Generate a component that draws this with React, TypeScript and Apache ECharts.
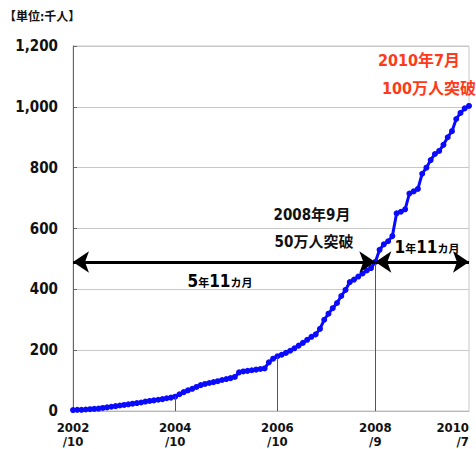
import React, { useEffect, useRef } from "react";
import * as echarts from "echarts";

// Monthly cumulative subscribers (thousands), 2002/10 .. 2010/7
const startYear = 2002;
const startMonth = 10;
const values: number[] = [
  3, 4, 4, 5, 6, 7, 8, 10, 12, 14, 16, 18, 20, 22, 24, 26, 28, 31, 33, 35, 37, 39, 42, 44,
  47, 55, 62, 68, 73, 79, 85, 89, 92, 95, 98, 102, 105, 108, 112, 127, 130, 132, 134, 136,
  138, 140, 160, 172, 180, 185, 191, 198, 206, 215, 224, 234, 244, 252, 270, 300, 320, 338,
  355, 378, 398, 424, 432, 442, 452, 462, 470, 490, 530, 548, 558, 575, 650, 655, 663, 715,
  722, 730, 780, 800, 825, 845, 855, 875, 900, 920, 960, 980, 995, 1003,
];
const categories: string[] = values.map((_, i) => {
  const m = startMonth - 1 + i;
  return `${startYear + Math.floor(m / 12)}/${(m % 12) + 1}`;
});
const labeledMonths = ["2002/10", "2004/10", "2006/10", "2008/9", "2010/7"];
const dropLineMonths = ["2004/10", "2006/10", "2008/9"];
const arrowLevel = 490;
const arrowSpans: [string, string][] = [
  ["2002/10", "2008/9"],
  ["2008/9", "2010/7"],
];
const yTicks = { min: 0, max: 1200, interval: 200 };

const FONT = "'DejaVu Sans Condensed', 'Noto Sans CJK JP', sans-serif";

export default function App() {
  const ref = useRef<HTMLDivElement>(null);
  useEffect(() => {
    if (!ref.current) return;
    const chart = echarts.init(ref.current, undefined, { renderer: "svg" });
    const big = { fontSize: 17, fontWeight: "bold", fontFamily: FONT, color: "#111", verticalAlign: "bottom" as const };
    const small = { fontSize: 11, fontWeight: "bold", fontFamily: FONT, color: "#111", verticalAlign: "bottom" as const, padding: [0, 0, 1, 0] };
    chart.setOption({
      animation: false,
      backgroundColor: "#fff",
      grid: {
        left: 73,
        right: 7,
        top: 46,
        bottom: 38,
        outerBoundsMode: "none",
        containLabel: false,
        show: true,
        borderColor: "#c8c8c8",
        borderWidth: 1,
      },
      xAxis: {
        type: "category",
        data: categories,
        boundaryGap: false,
        axisLine: { show: true, lineStyle: { color: "#b8b8b8", width: 1 } },
        axisTick: { show: false },
        splitLine: { show: false },
        axisLabel: {
          interval: (idx: number, val: string) => labeledMonths.includes(val),
          formatter: (val: string) => val.replace("/", "\n/"),
          fontFamily: FONT,
          fontWeight: "bold",
          fontSize: 13,
          color: "#111",
          lineHeight: 14,
          margin: 9,
          alignMaxLabel: "right",
        },
      },
      yAxis: {
        type: "value",
        min: yTicks.min,
        max: yTicks.max,
        interval: yTicks.interval,
        axisLine: { show: true, lineStyle: { color: "#666", width: 1 } },
        axisTick: { show: true, inside: true, length: 4, lineStyle: { color: "#666" } },
        splitLine: { show: true, lineStyle: { color: "#c8c8c8", width: 1 } },
        axisLabel: {
          formatter: (v: number) => v.toLocaleString("en-US"),
          fontFamily: FONT,
          fontWeight: "bold",
          fontSize: 15,
          color: "#111",
          margin: 15,
        },
      },
      series: [
        {
          type: "line",
          z: 1,
          data: [],
          markLine: {
            silent: true,
            symbol: "none",
            label: { show: false },
            lineStyle: { color: "#555", width: 1, type: "solid" },
            data: dropLineMonths.map((c) => [
              { coord: [c, values[categories.indexOf(c)]] },
              { coord: [c, 0] },
            ]),
          },
        },
        {
          type: "line",
          z: 3,
          data: values,
          symbol: "circle",
          symbolSize: 6,
          showAllSymbol: true,
          lineStyle: { color: "#0a0aff", width: 3 },
          itemStyle: { color: "#0a0aff" },
        },
        {
          type: "line",
          z: 4,
          data: [],
          markLine: {
            silent: true,
            symbol: ["arrow", "arrow"],
            symbolSize: 16,
            label: { show: false },
            lineStyle: { color: "#000", width: 3, type: "solid" },
            data: arrowSpans.map(([a, b]) => [
              { coord: [a, arrowLevel] },
              { coord: [b, arrowLevel] },
            ]),
          },
        },
      ],
      graphic: [
        {
          type: "text",
          left: 4,
          top: 11,
          style: { text: "【単位:千人】", font: `bold 12px ${FONT}`, fill: "#111" },
        },
        {
          type: "text",
          x: 312,
          y: 215,
          style: { text: "2008年9月", font: `bold 15px ${FONT}`, fill: "#111", align: "center", verticalAlign: "middle" },
        },
        {
          type: "text",
          x: 314,
          y: 242,
          style: { text: "50万人突破", font: `bold 15px ${FONT}`, fill: "#111", align: "center", verticalAlign: "middle" },
        },
        {
          type: "text",
          x: 419,
          y: 60,
          style: { text: "2010年7月", font: `bold 16px ${FONT}`, fill: "#ff3a1a", align: "center", verticalAlign: "middle" },
        },
        {
          type: "text",
          x: 429,
          y: 88,
          style: { text: "100万人突破", font: `bold 16px ${FONT}`, fill: "#ff3a1a", align: "center", verticalAlign: "middle" },
        },
        {
          type: "text",
          x: 220,
          y: 281,
          style: {
            text: "{a|5}{b|年}{a|11}{b|カ月}",
            rich: { a: big, b: small },
            align: "center",
            verticalAlign: "middle",
          },
        },
        {
          type: "text",
          x: 427,
          y: 247,
          style: {
            text: "{a|1}{b|年}{a|11}{b|カ月}",
            rich: { a: big, b: small },
            align: "center",
            verticalAlign: "middle",
          },
        },
      ],
    });
    return () => chart.dispose();
  }, []);
  return (
    <div
      ref={ref}
      style={{ position: "fixed", left: 0, top: 0, width: 476, height: 449, background: "#fff" }}
    />
  );
}
